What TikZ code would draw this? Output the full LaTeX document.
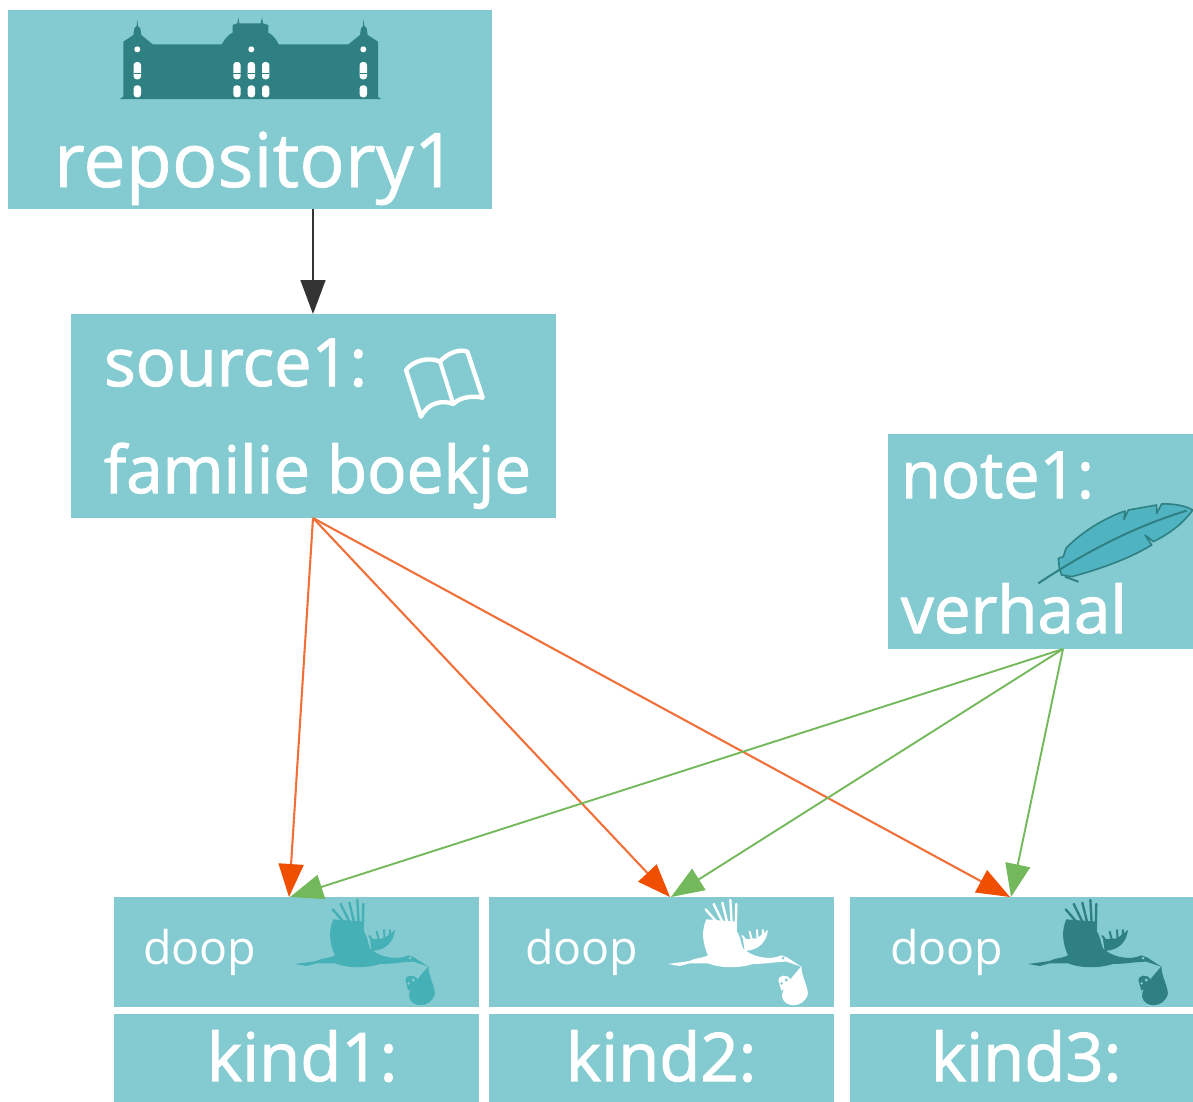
\documentclass[tikz,border=0pt]{standalone}
\usepackage{fontspec}
\setmainfont{Open Sans}
\newfontfamily\semif[FakeBold=1.6]{Open Sans}
\newfontfamily\halff[FakeBold=0.9]{Open Sans}
\usetikzlibrary{arrows.meta}
\definecolor{boxc}{HTML}{83CBD1}
\definecolor{dark}{HTML}{2E8082}
\definecolor{mid}{HTML}{45B0B5}
\definecolor{feath}{HTML}{50B3C1}
\definecolor{orhead}{HTML}{F04E00}
\definecolor{orline}{HTML}{F0703A}
\definecolor{grn}{HTML}{74B85C}
\definecolor{blk}{HTML}{333333}
\tikzset{
  card/.style={fill=boxc,draw=none,inner sep=0pt,outer sep=0pt},
  lbl/.style={text=white,inner sep=0pt,outer sep=0pt,anchor=base west},
  blackedge/.style={blk,line width=1.5pt,-{Triangle[length=34pt,width=25pt,color=blk]}},
  orangeedge/.style={orline,line width=2.1pt,-{Triangle[length=33pt,width=25pt,color=orhead]}},
  greenedge/.style={grn,line width=1.9pt,-{Triangle[length=33pt,width=25pt,color=grn]}},
}
\newcommand{\storkat}[3]{%
\begin{scope}[shift={(#1,#2)},scale=1/3]
 \fill[#3] (45,252) -- (110,243) .. controls (130,232) and (150,235) .. (165,226)
  .. controls (148,190) and (145,150) .. (160,118) -- (250,125) -- (250,150)
  .. controls (258,165) and (262,175) .. (265,190) -- (270,205) .. controls (290,225) and (340,245) .. (385,226) -- (402,232) -- (445,260) -- (400,245)
  .. controls (370,245) and (340,252) .. (300,252) .. controls (260,265) and (200,265) .. (165,250)
  -- (110,250) -- (80,258) -- cycle;
 \foreach \ax/\ay/\bx/\by in {158/88/190/125, 182/72/208/125, 208/68/222/125, 232/60/236/130, 250/72/248/150}{
   \draw[#3,line width=2.4pt,line cap=round] (\ax,\ay) -- (\bx,\by);
 }
 \fill[#3] (270,178) -- (312,175) -- (345,150) .. controls (340,185) and (320,210) .. (275,213) -- cycle;
 \foreach \ax/\ay/\bx/\by in {268/168/285/190, 290/155/298/185, 312/150/314/180, 330/150/328/180}{
   \draw[#3,line width=2pt,line cap=round] (\ax,\ay) -- (\bx,\by);
 }
 \fill[#3] (445,258) .. controls (430,280) and (385,320) .. (387,350) .. controls (395,385) and (450,385) .. (464,345) .. controls (468,325) and (445,290) .. (445,258) -- cycle;
 \fill[#3] (376,300) .. controls (376,285) and (405,280) .. (413,300) -- (405,322) -- (385,332) -- cycle;
 \fill[boxc] (390,234) circle (4.5);
 \fill[boxc] (386,310) circle (4);
 \fill[boxc] (400,300) circle (5);
\end{scope}}
\newcommand{\windowat}[3]{\fill[white,rounded corners=3pt] (#1-11,#2) rectangle (#1+11,#3);}
\begin{document}
\begin{tikzpicture}[x=1pt,y=-1pt]
\useasboundingbox (0,0) rectangle (1193,1101);
\clip (0,0) rectangle (1193,1101);
% cards
\node[card,minimum width=484pt,minimum height=199pt] (repo) at (250,109.5) {};
\node[card,minimum width=485pt,minimum height=204pt] (src) at (313,416) {};
\node[card,minimum width=350pt,minimum height=215pt] (note) at (1063,541.5) {};
\node[card,minimum width=365pt,minimum height=110pt] (doopa) at (296.5,952) {};
\node[card,minimum width=345pt,minimum height=110pt] (doopb) at (661.5,952) {};
\node[card,minimum width=343pt,minimum height=110pt] (doopc) at (1021.5,952) {};
\node[card,minimum width=365pt,minimum height=100pt] (kinda) at (296.5,1064) {};
\node[card,minimum width=345pt,minimum height=100pt] (kindb) at (661.5,1064) {};
\node[card,minimum width=343pt,minimum height=100pt] (kindc) at (1021.5,1064) {};
% texts
\node[lbl,font=\fontsize{75.5}{75.5}\selectfont\halff] (t1) at (54,187) {repository1};
\node[lbl,font=\fontsize{66.5}{66.5}\selectfont\semif] (t2) at (104,386) {source1:};
\node[lbl,font=\fontsize{65.5}{65.5}\selectfont\semif] (t3) at (104,493) {familie boekje};
\node[lbl,font=\fontsize{65}{65}\selectfont\semif] (t4) at (901,498) {note1:};
\node[lbl,font=\fontsize{65.5}{65.5}\selectfont\semif] (t5) at (901,633) {verhaal};
\node[lbl,font=\fontsize{46.5}{46.5}\selectfont] (t6) at (143,964) {doop};
\node[lbl,font=\fontsize{46.5}{46.5}\selectfont] (t7) at (525,964) {doop};
\node[lbl,font=\fontsize{46.5}{46.5}\selectfont] (t8) at (890,964) {doop};
\node[lbl,font=\fontsize{67}{67}\selectfont\semif] (t9) at (207,1081) {kind1:};
\node[lbl,font=\fontsize{67}{67}\selectfont\semif] (t10) at (566,1081) {kind2:};
\node[lbl,font=\fontsize{67}{67}\selectfont\semif] (t11) at (931,1081) {kind3:};
% building
\begin{scope}[shift={(100,0)},scale=1/3]
 \fill[dark] (60,297) -- (70,290) -- (70,125) -- (100,105) -- (103,85) -- (110,78) -- (112,58) -- (114,78) -- (121,85) -- (124,105) -- (158,133)
  -- (365,133) .. controls (375,115) and (390,100) .. (398,98) -- (398,75) -- (412,70) -- (415,52) -- (418,70) -- (482,70) -- (486,52) -- (489,70) -- (505,75) -- (505,98)
  .. controls (520,105) and (530,120) .. (536,133) -- (745,133) -- (780,105) -- (783,85) -- (789,78) -- (790,58) -- (793,78) -- (800,85) -- (803,105) -- (834,125) -- (834,290) -- (843,297) -- cycle;
 \foreach \wx in {112,790,411,454,497}{
   \windowat{\wx}{186}{238}
   \windowat{\wx}{256}{292}
   \fill[dark] (\wx-11,219) rectangle (\wx+11,223);
 }
 \foreach \wx in {112,454,790}{\fill[white] (\wx,148) circle (9);}
\end{scope}
% book
\begin{scope}[shift={(390,330)},scale=1/3]
 \draw[white,line width=4.4pt,line join=round] (48,120) .. controls (70,90) and (120,80) .. (150,95)
   .. controls (170,70) and (210,55) .. (232,65) -- (278,203) .. controls (240,195) and (205,205) .. (190,222)
   .. controls (160,210) and (115,215) .. (93,260) -- cycle;
 \draw[white,line width=4pt] (150,95) -- (190,222);
\end{scope}
% feather
\begin{scope}[shift={(1000,480)},scale=1/3]
 \draw[dark,fill=feath,line width=1.6pt,line join=round] (178,265) -- (175,235) -- (190,230) -- (198,205)
  .. controls (240,160) and (310,115) .. (375,93) -- (372,118) -- (385,90) -- (470,75) -- (470,100) -- (485,72)
  .. controls (520,70) and (560,78) .. (578,90) .. controls (550,130) and (510,160) .. (460,185)
  -- (435,165) -- (455,195) .. controls (380,240) and (290,270) .. (215,290) -- (185,285) -- cycle;
 \draw[dark,line width=2pt] (115,310) .. controls (250,220) and (400,140) .. (560,92);
 \draw[dark,line width=2pt] (195,290) -- (235,305);
\end{scope}
% storks
\storkat{280}{880}{mid}
\storkat{653}{880}{white}
\storkat{1013}{880}{dark}
% connector targets
\coordinate (ka) at (289,897);
\coordinate (kb) at (670,897);
\coordinate (kc) at (1010,897);
\coordinate (na) at (290,897);
\coordinate (nb) at (671,897);
\coordinate (nc) at (1011,897);
% connectors
\draw[blackedge] (repo.south -| src.north) -- (src.north);
\draw[orangeedge] (src.south) -- (ka);
\draw[orangeedge] (src.south) -- (kb);
\draw[orangeedge] (src.south) -- (kc);
\draw[greenedge] (note.south) -- (na);
\draw[greenedge] (note.south) -- (nb);
\draw[greenedge] (note.south) -- (nc);
\end{tikzpicture}
\end{document}
